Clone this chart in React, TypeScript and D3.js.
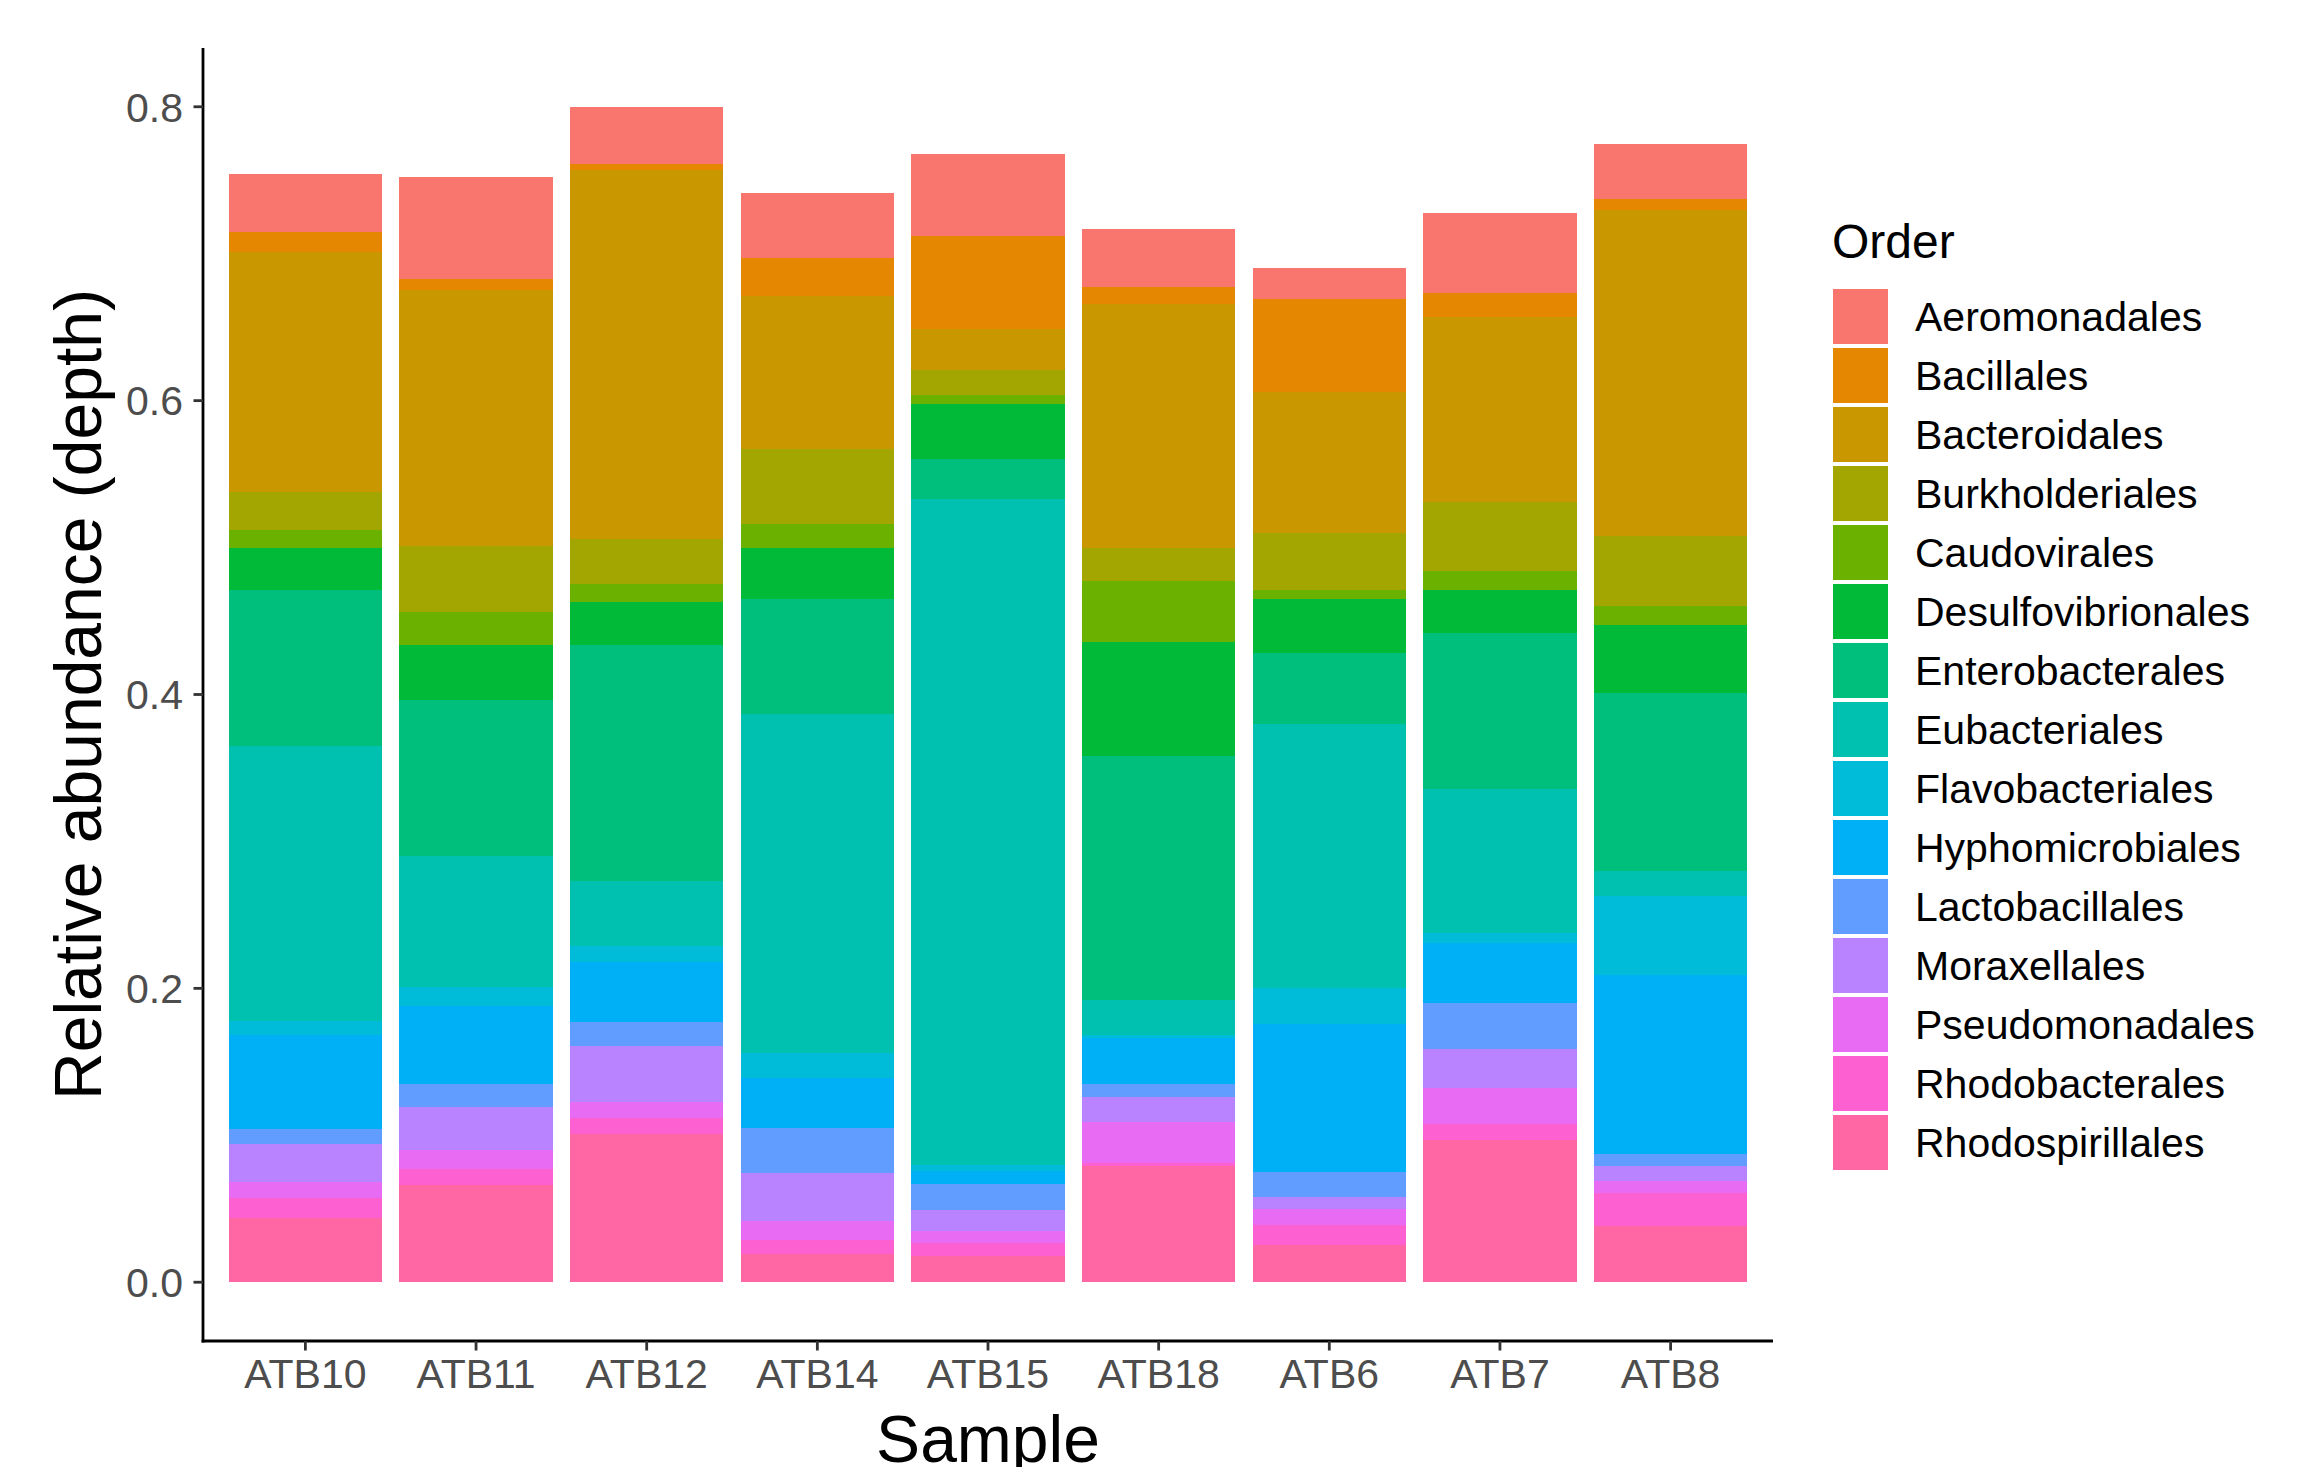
import React, { useEffect, useRef } from 'react';
import * as d3 from 'd3';

const samples = ['ATB10', 'ATB11', 'ATB12', 'ATB14', 'ATB15', 'ATB18', 'ATB6', 'ATB7', 'ATB8'];

const orders = [
  'Aeromonadales', 'Bacillales', 'Bacteroidales', 'Burkholderiales', 'Caudovirales',
  'Desulfovibrionales', 'Enterobacterales', 'Eubacteriales', 'Flavobacteriales',
  'Hyphomicrobiales', 'Lactobacillales', 'Moraxellales', 'Pseudomonadales',
  'Rhodobacterales', 'Rhodospirillales',
];

// ggplot default hue palette for 15 levels
const colors = [
  '#F8766D', '#E58700', '#C99800', '#A3A500', '#6BB100', '#00BA38', '#00BF7D', '#00C0AF',
  '#00BCD8', '#00B0F6', '#619CFF', '#B983FF', '#E76BF3', '#FD61D1', '#FF67A4',
];

// relative abundance per order, one value per sample (same order as samples)
const aeromonadales = [0.039, 0.069, 0.039, 0.044, 0.056, 0.040, 0.021, 0.055, 0.038];
const bacillales = [0.014, 0.008, 0.004, 0.026, 0.063, 0.011, 0.063, 0.016, 0.007];
const bacteroidales = [0.163, 0.174, 0.251, 0.104, 0.028, 0.166, 0.096, 0.126, 0.222];
const burkholderiales = [0.026, 0.045, 0.031, 0.051, 0.017, 0.023, 0.039, 0.047, 0.048];
const caudovirales = [0.012, 0.022, 0.012, 0.016, 0.006, 0.041, 0.006, 0.013, 0.013];
const desulfovibrionales = [0.029, 0.038, 0.029, 0.035, 0.038, 0.078, 0.037, 0.029, 0.046];
const enterobacterales = [0.106, 0.106, 0.161, 0.078, 0.027, 0.166, 0.048, 0.106, 0.121];
const eubacteriales = [0.187, 0.089, 0.044, 0.231, 0.453, 0.024, 0.180, 0.098, 0.017];
const flavobacteriales = [0.010, 0.013, 0.011, 0.017, 0.004, 0.002, 0.024, 0.007, 0.054];
const hyphomicrobiales = [0.064, 0.053, 0.041, 0.034, 0.009, 0.031, 0.101, 0.041, 0.122];
const lactobacillales = [0.010, 0.016, 0.016, 0.031, 0.018, 0.009, 0.017, 0.031, 0.008];
const moraxellales = [0.026, 0.029, 0.038, 0.032, 0.014, 0.017, 0.008, 0.027, 0.010];
const pseudomonadales = [0.011, 0.013, 0.011, 0.013, 0.008, 0.028, 0.011, 0.024, 0.008];
const rhodobacterales = [0.013, 0.011, 0.011, 0.010, 0.009, 0.002, 0.014, 0.011, 0.023];
const rhodospirillales = [0.044, 0.066, 0.101, 0.019, 0.018, 0.079, 0.025, 0.097, 0.038];

const seriesValues = [
  aeromonadales, bacillales, bacteroidales, burkholderiales, caudovirales,
  desulfovibrionales, enterobacterales, eubacteriales, flavobacteriales,
  hyphomicrobiales, lactobacillales, moraxellales, pseudomonadales,
  rhodobacterales, rhodospirillales,
];

const yTicks = [0, 0.2, 0.4, 0.6, 0.8];

const W = 2302;
const H = 1467;
const FONT = "'Liberation Sans', Arial, Helvetica, sans-serif";

export default function App() {
  const svgRef = useRef<SVGSVGElement>(null);

  useEffect(() => {
    const svg = d3.select(svgRef.current);
    svg.selectAll('*').remove();

    const left = 203, right = 1773, top = 48, bottom = 1341;

    const table = samples.map((s, i) => {
      const row: any = { sample: s };
      orders.forEach((o, k) => { row[o] = seriesValues[k][i]; });
      return row;
    });

    // first level ends up on top, like ggplot's position_stack
    const stacked = d3.stack().keys([...orders].reverse())(table);
    const maxTotal = d3.max(stacked[stacked.length - 1], d => d[1]) as number;
    const pad = maxTotal * 0.05;

    const x = d3.scaleBand().domain(samples).range([left, right]).paddingInner(0.1).paddingOuter(0.15);
    const y = d3.scaleLinear().domain([-pad, maxTotal + pad]).range([bottom, top]);
    const color = d3.scaleOrdinal<string, string>().domain(orders).range(colors);

    // bars
    svg.append('g')
      .selectAll('g')
      .data(stacked)
      .join('g')
      .attr('fill', d => color(d.key))
      .selectAll('rect')
      .data(d => d)
      .join('rect')
      .attr('x', (d: any) => x(d.data.sample) as number)
      .attr('width', x.bandwidth())
      .attr('y', d => y(d[1]))
      .attr('height', d => y(d[0]) - y(d[1]))
      .attr('shape-rendering', 'crispEdges');

    // y axis
    const yAxis = svg.append('g');
    yAxis.append('line')
      .attr('x1', left).attr('x2', left).attr('y1', top).attr('y2', bottom + 1.4)
      .attr('stroke', 'black').attr('stroke-width', 2.8);
    yTicks.forEach(t => {
      yAxis.append('line')
        .attr('x1', left - 9.5).attr('x2', left).attr('y1', y(t)).attr('y2', y(t))
        .attr('stroke', '#333333').attr('stroke-width', 2.8);
      yAxis.append('text')
        .attr('x', left - 20).attr('y', y(t)).attr('dy', '0.36em')
        .attr('text-anchor', 'end')
        .attr('font-family', FONT).attr('font-size', 41).attr('fill', '#4D4D4D')
        .text(d3.format('.1f')(t));
    });

    // x axis
    const xAxis = svg.append('g');
    xAxis.append('line')
      .attr('x1', left - 1.4).attr('x2', right).attr('y1', bottom).attr('y2', bottom)
      .attr('stroke', 'black').attr('stroke-width', 2.8);
    samples.forEach(s => {
      const cx = (x(s) as number) + x.bandwidth() / 2;
      xAxis.append('line')
        .attr('x1', cx).attr('x2', cx).attr('y1', bottom).attr('y2', bottom + 9.5)
        .attr('stroke', '#333333').attr('stroke-width', 2.8);
      xAxis.append('text')
        .attr('x', cx).attr('y', 1388)
        .attr('text-anchor', 'middle')
        .attr('font-family', FONT).attr('font-size', 41).attr('fill', '#4D4D4D')
        .text(s);
    });

    // axis titles
    svg.append('text')
      .attr('x', (left + right) / 2).attr('y', 1462)
      .attr('text-anchor', 'middle')
      .attr('font-family', FONT).attr('font-size', 66).attr('fill', 'black')
      .text('Sample');

    svg.append('text')
      .attr('transform', `translate(101,${(top + bottom) / 2}) rotate(-90)`)
      .attr('text-anchor', 'middle')
      .attr('font-family', FONT).attr('font-size', 66).attr('fill', 'black')
      .text('Relative abundance (depth)');

    // legend
    const legend = svg.append('g');
    legend.append('text')
      .attr('x', 1832).attr('y', 258)
      .attr('font-family', FONT).attr('font-size', 48).attr('fill', 'black')
      .text('Order');

    orders.forEach((o, i) => {
      const ky = 289 + i * 59;
      legend.append('rect')
        .attr('x', 1833).attr('y', ky).attr('width', 55).attr('height', 55)
        .attr('fill', color(o));
      legend.append('text')
        .attr('x', 1915).attr('y', ky + 27.5).attr('dy', '0.36em')
        .attr('font-family', FONT).attr('font-size', 41).attr('fill', 'black')
        .text(o);
    });
  }, []);

  return (
    <svg
      ref={svgRef}
      width={W}
      height={H}
      style={{ position: 'absolute', left: 0, top: 0, background: 'white' }}
    />
  );
}
